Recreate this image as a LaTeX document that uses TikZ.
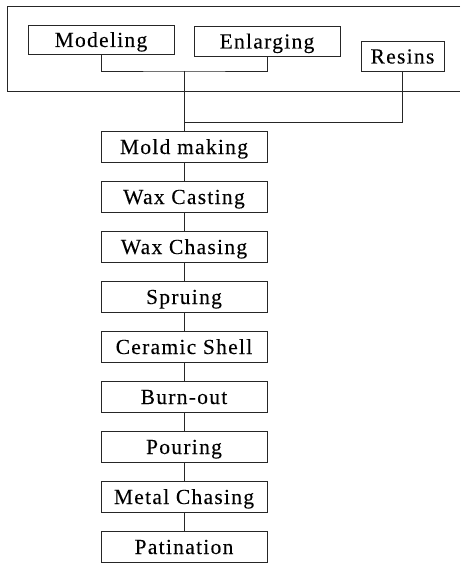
\documentclass[tikz,border=0pt]{standalone}
\usepackage{fontspec}
\setmainfont{Liberation Serif}[LetterSpace=6,FakeBold=0.15]
\begin{document}
\begin{tikzpicture}[x=1pt,y=-1pt,
  box/.style={draw=black!85, line width=0.7pt, inner sep=0pt,
    minimum height=31pt, text height=19pt, text depth=4pt,
    font=\fontsize{21.5pt}{23pt}\selectfont},
  chainbox/.style={box, minimum width=166pt},
  conn/.style={draw=black!85, line width=0.7pt}]
\useasboundingbox (0,0) rectangle (460,564);
\draw[conn] (460,6) -- (7,6) -- (7,91) -- (460,91);
\node[box, minimum width=146pt, minimum height=29pt] (model) at (101,39.5) {Modeling};
\node[box, minimum width=146pt, minimum height=30pt] (enl) at (267,41) {Enlarging};
\node[box, minimum width=83pt, minimum height=30pt] (res) at (402.5,56) {Resins};
\node[chainbox] (mold) at (184,146.5) {Mold making};
\node[chainbox] (wcast) at (184,196.5) {Wax Casting};
\node[chainbox] (wchase) at (184,246.5) {Wax Chasing};
\node[chainbox] (sprue) at (184,296.5) {Spruing};
\node[chainbox] (ceram) at (184,346.5) {Ceramic Shell};
\node[chainbox] (burn) at (184,396.5) {Burn-out};
\node[chainbox] (pour) at (184,446.5) {Pouring};
\node[chainbox] (metal) at (184,496.5) {Metal Chasing};
\node[chainbox] (patin) at (184,546.5) {Patination};
\coordinate (j1) at (184,71);
\coordinate (j2) at (184,122);
\draw[conn] (model.south) |- (j1) -| (enl.south);
\draw[conn] (j1) -- (mold.north);
\draw[conn] (res.south) |- (j2);
\draw[conn] (mold.south) -- (wcast.north);
\draw[conn] (wcast.south) -- (wchase.north);
\draw[conn] (wchase.south) -- (sprue.north);
\draw[conn] (sprue.south) -- (ceram.north);
\draw[conn] (ceram.south) -- (burn.north);
\draw[conn] (burn.south) -- (pour.north);
\draw[conn] (pour.south) -- (metal.north);
\draw[conn] (metal.south) -- (patin.north);
\end{tikzpicture}
\end{document}
